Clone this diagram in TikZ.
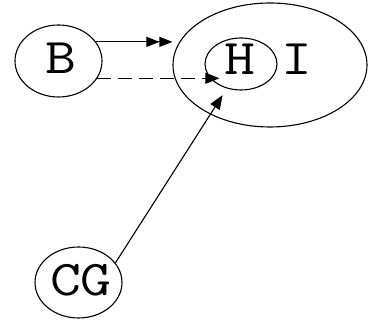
\documentclass[tikz,border=0pt]{standalone}
\usepackage{fontspec}
\newfontfamily\labfont[FakeStretch=1.2]{Latin Modern Mono}
\usetikzlibrary{shapes.geometric,arrows.meta,calc}
\begin{document}
\begin{tikzpicture}[x=1pt,y=1pt,
  oval/.style={draw=black,line width=1.1pt,ellipse,inner sep=0pt},
  lab/.style={font=\labfont\fontsize{50}{50}\selectfont,inner sep=0pt},
  edge/.style={draw=black,line width=1.1pt},
  tip/.style={-{Triangle[length=14pt,width=11pt]}},
  twotip/.style={-{Triangle[length=13pt,width=10pt]Triangle[length=13pt,width=10pt]}}
]
\useasboundingbox (0,0) rectangle (368,320);
% ovals
\node[oval,minimum width=194pt,minimum height=124pt] (I) at (270,255) {};
\node[oval,minimum width=72pt,minimum height=52pt] (H) at (241,256) {};
\node[oval,minimum width=87pt,minimum height=72pt] (B) at (58.5,259) {};
\node[oval,minimum width=87pt,minimum height=71pt] (CG) at (78.5,37.5) {};
% labels
\node[lab] (Hl) at (240,261) {H};
\node[lab] (Il) at (297,261) {I};
\node[lab] (Bl) at (61,262) {B};
\node[lab] (CGl) at (81,40) {CG};
% connectors
\draw[edge,twotip] (B.27) -- (B.27 -| I.west);
\draw[edge,tip,dash pattern=on 14pt off 7pt] (B.-24) -- ($(B.-24 -| H.west)+(15,0)$);
\draw[edge,tip,shorten >=8pt] (CG.28) -- (H.240);
\end{tikzpicture}
\end{document}
